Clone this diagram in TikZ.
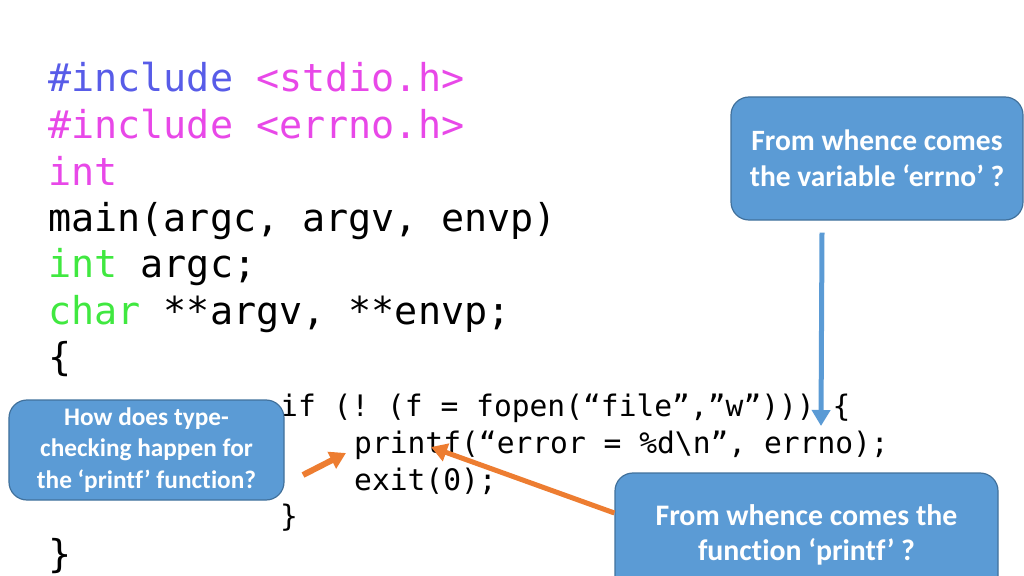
\documentclass[tikz,border=0pt]{standalone}
\usepackage{fontspec}
\setmonofont{DejaVu Sans Mono}
\newfontfamily\calloutfont[Ligatures=NoCommon]{Carlito}
\usetikzlibrary{arrows.meta}
\definecolor{kwblue}{RGB}{88,92,232}
\definecolor{kwpink}{RGB}{232,72,232}
\definecolor{kwgreen}{RGB}{64,232,64}
\definecolor{boxfill}{RGB}{91,155,213}
\definecolor{boxline}{RGB}{65,113,156}
\definecolor{arroworange}{RGB}{237,125,49}
\tikzset{
  bigcode/.style={anchor=base west,inner sep=0pt,font=\ttfamily\fontsize{38.4bp}{46.5bp}\selectfont},
  smallcode/.style={anchor=base west,inner sep=0pt,font=\ttfamily\fontsize{29.6bp}{37bp}\selectfont},
  callout/.style={draw=boxline,line width=1.2bp,fill=boxfill,rounded corners=18bp,text=white,align=center},
}
\begin{document}
\begin{tikzpicture}[x=1bp,y=-1bp,>={Triangle[length=16bp,width=18bp]}]
	\clip (0,0) rectangle (1024,576);
	
	%outer code
	\node[bigcode] (inc1) at (48,92) {\textcolor{kwblue}{\#include} \textcolor{kwpink}{<stdio.h>}};
	\node[bigcode] (inc2) at (48,139) {\textcolor{kwpink}{\#include <errno.h>}};
	\node[bigcode] (rettype) at (48,186) {\textcolor{kwpink}{int}};
	\node[bigcode] (mainhead) at (48,232) {main(argc, argv, envp)};
	\node[bigcode] (argcdecl) at (48,278) {\textcolor{kwgreen}{int} argc;};
	\node[bigcode] (argvdecl) at (48,324) {\textcolor{kwgreen}{char} **argv, **envp;};
	\node[bigcode] (openbrace) at (48,370) {\{};
	\node[bigcode] (closebrace) at (48,567) {\}};
	
	%inner block
	\node[smallcode] (ifline) at (280,416) {if (! (f = fopen(“file”,”w”))) \{};
	\node[smallcode] (printfline) at (354,453) {printf(“error = \%d\textbackslash n”, errno);};
	\node[smallcode] (exitline) at (354,490) {exit(0);};
	\node[smallcode] (ifclose) at (280,526) {\}};
	
	%callouts
	\node[callout,minimum width=292bp,minimum height=123bp,font=\calloutfont\bfseries\fontsize{29.5bp}{36bp}\selectfont] (errnobox) at (877,158.5)
		{From whence comes\\the variable ‘errno’ ?};
	\node[callout,minimum width=275bp,minimum height=100bp,font=\calloutfont\bfseries\fontsize{25.3bp}{31.5bp}\selectfont] (typebox) at (146.5,450)
		{How does type-\\checking happen for\\the ‘printf’ function?};
	\node[callout,minimum width=383bp,minimum height=124bp,font=\calloutfont\bfseries\fontsize{29.8bp}{35bp}\selectfont] (funcbox) at (806.5,535)
		{From whence comes the\\function ‘printf’ ?};
	
	%arrows
	\coordinate (errnotip) at (821,426);
	\coordinate (printftip) at (431,447);
	\coordinate (typetail) at (303,475);
	\coordinate (typetip) at (346,453);
	\draw[->, boxfill, line width=5bp] ([xshift=-55bp,yshift=-12bp]errnobox.south) -- (errnotip);
	\draw[->, arroworange, line width=5bp] ([yshift=22bp]funcbox.west) -- (printftip);
	\draw[->, arroworange, line width=6bp] (typetail) -- (typetip);
\end{tikzpicture}
\end{document}
